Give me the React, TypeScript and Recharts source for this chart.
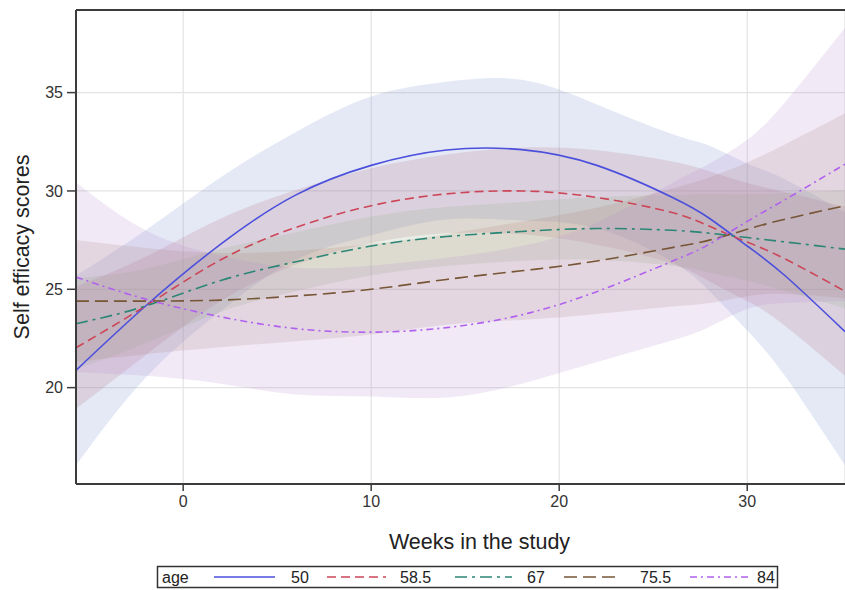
import React from 'react';
import { ComposedChart, Area, Line, XAxis, YAxis, CartesianGrid, ReferenceLine, Legend } from 'recharts';

// Weeks in the study (sample points)
const weeks = [-5.7, -2, 2, 6, 10, 14, 18, 22, 26, 28, 30, 32, 35.2];

// age = 50
const age50 = [20.88, 24.15, 27.3, 29.8, 31.3, 32.08, 32.1, 31.3, 29.68, 28.6, 27.2, 25.7, 22.85];
const age50Hi = [25.7, 28.0, 30.7, 33.0, 34.8, 35.55, 35.65, 34.4, 32.9, 32.3, 31.4, 30.6, 28.9];
const age50Lo = [16.05, 20.5, 23.9, 26.5, 27.75, 28.55, 28.5, 28.1, 26.4, 24.9, 22.9, 20.6, 16.05];

// age = 58.5
const age585 = [22.03, 24.15, 26.5, 28.15, 29.25, 29.85, 30.0, 29.67, 28.9, 28.2, 27.4, 26.55, 24.9];
const age585Hi = [25.13, 26.65, 28.6, 30.05, 31.15, 31.85, 32.2, 32.07, 31.5, 31.0, 30.4, 29.95, 29.2];
const age585Lo = [18.93, 21.65, 24.4, 26.25, 27.35, 27.85, 27.8, 27.27, 26.3, 25.4, 24.4, 23.15, 20.6];

// age = 67
const age67 = [23.25, 24.15, 25.45, 26.4, 27.2, 27.68, 27.94, 28.09, 28.0, 27.85, 27.63, 27.41, 27.04];
const age67Hi = [25.55, 26.05, 27.05, 27.9, 28.7, 29.18, 29.44, 29.69, 29.8, 29.85, 29.83, 29.91, 30.04];
const age67Lo = [20.95, 22.25, 23.85, 24.9, 25.7, 26.18, 26.44, 26.49, 26.2, 25.85, 25.43, 24.91, 24.04];

// age = 75.5
const age755 = [24.4, 24.4, 24.45, 24.66, 25.0, 25.5, 25.94, 26.44, 27.12, 27.5, 28.05, 28.56, 29.25];
const age755Hi = [27.5, 27.1, 26.85, 26.96, 27.3, 27.8, 28.44, 29.14, 30.12, 30.7, 31.45, 32.36, 33.95];
const age755Lo = [21.3, 21.7, 22.05, 22.36, 22.7, 23.2, 23.44, 23.74, 24.12, 24.3, 24.65, 24.76, 24.55];

// age = 84
const age84 = [25.62, 24.5, 23.6, 23.0, 22.82, 23.05, 23.7, 24.88, 26.42, 27.3, 28.45, 29.55, 31.36];
const age84Hi = [30.44, 28.0, 26.7, 26.1, 26.2, 26.6, 27.2, 28.4, 30.4, 31.4, 32.6, 34.5, 38.3];
const age84Lo = [20.8, 20.6, 20.2, 19.65, 19.55, 19.5, 20.2, 21.3, 22.4, 23.1, 24.0, 24.3, 24.4];

const xTicks = [0, 10, 20, 30];
const yTicks = [20, 25, 30, 35];
const xDomain: [number, number] = [-5.7, 35.2];
const yDomain: [number, number] = [15.1, 39.2];

const legendTitle = 'age';
const xTitle = 'Weeks in the study';
const yTitle = 'Self efficacy scores';

const FONT = "'Liberation Sans Narrow', 'Liberation Sans', Arial, sans-serif";
const FONT2 = "'Liberation Sans', Arial, sans-serif";

type Series = {
  key: string;
  label: string;
  line: number[];
  lo: number[];
  hi: number[];
  color: string;
  band: string;
  bandOpacity: number;
  dash?: string;
};

const series: Series[] = [
  { key: 'a50', label: '50', line: age50, lo: age50Lo, hi: age50Hi, color: '#4b4fdc', band: '#8fa3d6', bandOpacity: 0.24 },
  { key: 'a585', label: '58.5', line: age585, lo: age585Lo, hi: age585Hi, color: '#cc4658', band: '#b87080', bandOpacity: 0.2, dash: '9 5' },
  { key: 'a67', label: '67', line: age67, lo: age67Lo, hi: age67Hi, color: '#2b8676', band: '#9bb590', bandOpacity: 0.22, dash: '12 5 3 5' },
  { key: 'a755', label: '75.5', line: age755, lo: age755Lo, hi: age755Hi, color: '#775636', band: '#a88268', bandOpacity: 0.18, dash: '13 6' },
  { key: 'a84', label: '84', line: age84, lo: age84Lo, hi: age84Hi, color: '#b062ee', band: '#b890d4', bandOpacity: 0.2, dash: '7 4 2 4' },
];

const data = weeks.map((w, i) => {
  const row: Record<string, number | number[]> = { week: w };
  series.forEach((s) => {
    row[s.key] = s.line[i];
    row[s.key + 'Band'] = [s.lo[i], s.hi[i]];
  });
  return row;
});

// legend item positions inside the legend strip
const legendLayout = [
  { x1: 206, x2: 267, tx: 283 },
  { x1: 319, x2: 378, tx: 392 },
  { x1: 447, x2: 504, tx: 519 },
  { x1: 556, x2: 613, tx: 632 },
  { x1: 682, x2: 740, tx: 749 },
];

const LegendContent = () => (
  <svg width={837} height={26} style={{ display: 'block' }}>
    <rect x={149.5} y={2.5} width={620} height={21} fill="#fff" stroke="#333" strokeWidth={1.5} />
    <text x={154} y={18.5} fontSize={16} fontFamily={FONT} fill="#222">
      {legendTitle}
    </text>
    {series.map((s, i) => {
      const l = legendLayout[i];
      return (
        <g key={s.key}>
          <line x1={l.x1} x2={l.x2} y1={13} y2={13} stroke={s.color} strokeWidth={1.5} strokeDasharray={s.dash} />
          <text x={l.tx} y={18.5} fontSize={16} fontFamily={FONT} fill="#222">
            {s.label}
          </text>
        </g>
      );
    })}
  </svg>
);

export default function App() {
  return (
    <div style={{ width: 845, height: 590, paddingTop: 8, paddingLeft: 8, boxSizing: 'border-box', overflow: 'hidden' }}>
      <style>{'body{margin:0}'}</style>
      <ComposedChart width={837} height={582} data={data} margin={{ top: 2, right: 0, bottom: 0, left: 0 }}>
        <CartesianGrid stroke="#e3e3e3" strokeWidth={1.2} />
        <XAxis
          dataKey="week"
          type="number"
          domain={xDomain}
          ticks={xTicks}
          allowDataOverflow
          height={80}
          tickSize={7}
          tickMargin={5}
          stroke="#3c3c3c"
          axisLine={{ stroke: '#3c3c3c', strokeWidth: 2 }}
          tickLine={{ stroke: '#3c3c3c', strokeWidth: 1.5 }}
          tick={{ fill: '#333', fontSize: 16, fontFamily: FONT }}
          label={{ value: xTitle, position: 'insideBottom', offset: 15, dx: 19, fill: '#222', fontSize: 21.5, fontFamily: FONT2 }}
        />
        <YAxis
          type="number"
          domain={yDomain}
          ticks={yTicks}
          allowDataOverflow
          width={68}
          tickSize={9}
          tickMargin={4}
          stroke="#3c3c3c"
          axisLine={{ stroke: '#3c3c3c', strokeWidth: 2 }}
          tickLine={{ stroke: '#3c3c3c', strokeWidth: 1.5 }}
          tick={{ fill: '#333', fontSize: 16, fontFamily: FONT }}
          label={{ value: yTitle, angle: -90, position: 'insideLeft', offset: 13, fill: '#222', fontSize: 21.5, fontFamily: FONT2, style: { textAnchor: 'middle' } }}
        />
        <ReferenceLine y={yDomain[1]} stroke="#3c3c3c" strokeWidth={2} />
        {series.map((s) => (
          <Area
            key={s.key + 'Band'}
            dataKey={s.key + 'Band'}
            type="natural"
            stroke="none"
            fill={s.band}
            fillOpacity={s.bandOpacity}
            isAnimationActive={false}
            dot={false}
            activeDot={false}
            legendType="none"
          />
        ))}
        {series.map((s) => (
          <Line
            key={s.key}
            dataKey={s.key}
            name={s.label}
            type="natural"
            stroke={s.color}
            strokeWidth={1.6}
            strokeDasharray={s.dash}
            dot={false}
            activeDot={false}
            isAnimationActive={false}
          />
        ))}
        <Legend
          verticalAlign="bottom"
          content={() => <LegendContent />}
          wrapperStyle={{ left: 0, width: 837, height: 26 }}
        />
      </ComposedChart>
    </div>
  );
}
